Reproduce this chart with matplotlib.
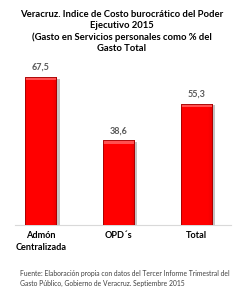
import matplotlib
matplotlib.use("Agg")
import matplotlib.pyplot as plt
import numpy as np
from matplotlib.patches import Rectangle

categories = ["Admón\nCentralizada", "OPD´s", "Total"]
values = [67.5, 38.6, 55.3]
value_labels = ["67,5", "38,6", "55,3"]

TITLE = ("Veracruz. Indice de Costo burocrático del Poder\nEjecutivo 2015\n"
         "(Gasto en Servicios personales como % del\nGasto Total")
SOURCE = ("Fuente: Elaboración propia con datos del Tercer Informe Trimestral del\n"
          "Gasto Público, Gobierno de Veracruz. Septiembre 2015")

plt.rcParams['font.family'] = ['Lato', 'DejaVu Sans']

fig = plt.figure(figsize=(2.43, 2.99), dpi=100)
ax = fig.add_axes([15 / 243, 74 / 299, 216 / 243, 0.55])

x = np.arange(len(categories))
width = 0.4

# drop shadow
for xi, v in zip(x, values):
    ax.add_patch(Rectangle((xi - width / 2 + 0.04, 0), width, v - 0.8,
                           facecolor="#888888", alpha=0.5, edgecolor="none", zorder=1))

bars = ax.bar(x, values, width, color="#ff0000", edgecolor="#b00000", linewidth=0.6, zorder=2)

# horizontal shading to fake the bevelled look
grad = np.linspace(0, 1, 64)
shade = 1 - 0.6 * np.abs(grad - 0.45) ** 1.8
rgb = np.zeros((1, 64, 3))
rgb[0, :, 0] = np.clip(shade + 0.12, 0, 1)
for b in bars:
    x0, w, h = b.get_x(), b.get_width(), b.get_height()
    im = ax.imshow(rgb, extent=(x0, x0 + w, 0, h), aspect="auto", zorder=3, interpolation="bilinear")
    im.set_clip_path(b)
    ax.add_patch(Rectangle((x0, h - 1.5), w, 1.5, facecolor="#ff5050", edgecolor="none", zorder=4))
    ax.add_patch(Rectangle((x0, 0), w, h, facecolor="none", edgecolor="#a00000", linewidth=0.6, zorder=5))

for xi, v, lab in zip(x, values, value_labels):
    ax.text(xi, v + 2.3, lab, ha="center", va="bottom", fontsize=6.5,
            fontweight="bold", color="#595959")

ax.set_xlim(-0.335, 2.45)
ax.set_ylim(0, 75)
ax.set_xticks(x)
ax.set_xticklabels(categories, fontsize=6.6, fontweight="bold", linespacing=1.45)
ax.tick_params(axis="x", length=0, pad=4)
ax.set_yticks([])
for s in ["top", "right", "left"]:
    ax.spines[s].set_visible(False)
ax.spines["bottom"].set_color("#d9d9d9")
ax.spines["bottom"].set_linewidth(0.8)

fig.text(0.5, 1 - 10 / 299, TITLE, ha="center", va="top", fontsize=6.8,
         fontweight="bold", linespacing=1.3)
fig.text(20 / 243, 1 - 270 / 299, SOURCE, ha="left", va="top", fontsize=4.9,
         color="#404040", linespacing=1.45)

fig.savefig("out.png", dpi=100)
